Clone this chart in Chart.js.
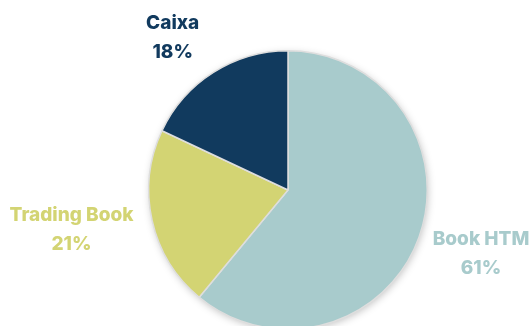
<!DOCTYPE html>
<html>
<head>
<meta charset="utf-8">
<script src="https://cdn.jsdelivr.net/npm/chart.js@4/dist/chart.umd.min.js"></script>
<style>
  html, body { margin:0; padding:0; background:#fff; overflow:hidden; }
  #wrap { width:530px; height:326px; overflow:hidden; position:relative; }
  #wrap canvas { position:absolute; left:0; top:0; }
</style>
</head>
<body>
<div id="wrap"><canvas id="chart" width="530" height="380"></canvas></div>
<script>
  // data
  const labels = ["Book HTM", "Trading Book", "Caixa"];
  const values = [61, 21, 18];
  const colors = ["#a8cbcc", "#d3d473", "#113a5e"];
  // label placement: distance as multiple of radius, and angle nudge in degrees
  const labelDist = [1.46, 1.58, 1.37];
  const labelTurn = [-1.5, 2.3, -4.8];

  const FONT = "Inter, 'Open Sans', sans-serif";

  // soft drop shadow under the whole pie
  const pieShadow = {
    id: "pieShadow",
    beforeDatasetsDraw(chart){
      const arc = chart.getDatasetMeta(0).data[0];
      if(!arc) return;
      const ctx = chart.ctx;
      ctx.save();
      ctx.beginPath();
      ctx.arc(arc.x, arc.y, arc.outerRadius - 1, 0, Math.PI*2);
      ctx.fillStyle = "#fff";
      ctx.shadowColor = "rgba(0,0,0,0.28)";
      ctx.shadowBlur = 9;
      ctx.shadowOffsetX = 1;
      ctx.shadowOffsetY = 2;
      ctx.fill();
      ctx.restore();
    }
  };

  // name + percent outside each slice
  const outerLabels = {
    id: "outerLabels",
    afterDatasetsDraw(chart){
      const ctx = chart.ctx;
      const total = values.reduce((a,b)=>a+b,0);
      chart.getDatasetMeta(0).data.forEach((arc,i)=>{
        const mid = (arc.startAngle + arc.endAngle)/2 + labelTurn[i]*Math.PI/180;
        const d = arc.outerRadius * labelDist[i];
        const x = arc.x + Math.cos(mid)*d;
        const y = arc.y + Math.sin(mid)*d;
        ctx.save();
        ctx.fillStyle = colors[i];
        ctx.font = "800 19px " + FONT;
        ctx.textAlign = "center";
        ctx.textBaseline = "middle";
        ctx.fillText(labels[i], x, y - 14.5);
        ctx.fillText(Math.round(values[i]/total*100) + "%", x, y + 14.5);
        ctx.restore();
      });
    }
  };

  new Chart(document.getElementById("chart"), {
    type: "pie",
    data: {
      labels: labels,
      datasets: [{
        data: values,
        backgroundColor: colors,
        borderColor: "#dedede",
        borderWidth: 1.5
      }]
    },
    options: {
      responsive: false,
      animation: false,
      layout: { padding: { left:148, right:102, top:50, bottom:50 } },
      plugins: { legend:{ display:false }, tooltip:{ enabled:false } }
    },
    plugins: [pieShadow, outerLabels]
  });
</script>
</body>
</html>
